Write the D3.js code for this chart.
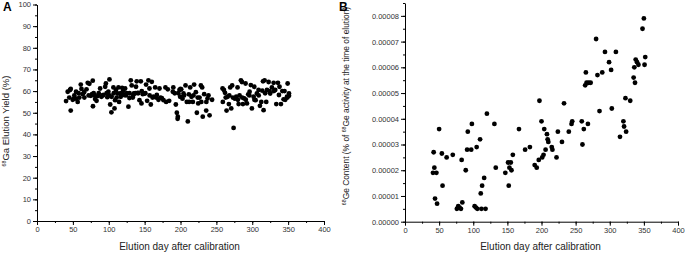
<!DOCTYPE html>
<html>
<head>
<meta charset="utf-8">
<script src="https://cdn.jsdelivr.net/npm/d3@7"></script>
<style>
	body { margin: 0; background: #fff; }
	svg { font-family: "Liberation Sans", Arial, sans-serif; }
	.axis path, .axis line { stroke: #000; stroke-width: 1; }
	.axis text { fill: #333; font-size: 7.5px; }
</style>
</head>
<body>
<div id="chart"></div>
<script>
// Panel A: 68Ga elution yield (%) by elution day
var dayA = [40.5,42.8,46,47,47,49.8,51.6,55,54.4,56.7,59,61,62,63.7,65.6,69,70.7,73,75,76.7,77.7,78,80,81,83,84.7,88,89.8,92.6,95,96,98,99.5,101,102,103.7,104,106.5,108,108.8,110,112.6,113.5,114.4,116.7,118.6,121.4,122.8,125,127.4,128.8,130.7,132,133.5,135,138,139,140.5,142.8,144.7,145.6,147.4,149.8,152,153.5,155.3,156.7,158.6,160,162.3,164.7,167,169.3,170.7,174,176.3,179,182.3,184.2,189.3,190,193.5,194.9,196,196.3,198.6,199.5,201,202.8,204.2,207,208.8,210.2,211.6,213.5,215.3,217.2,219,221.4,222.8,224.7,226.5,228.4,230.2,231,233,235.8,237.7,239,240.5,244,
	258.6,259,260.5,262,264.2,265.6,267.4,269.3,270.7,272,274,275.8,277.7,279.5,281,282.3,284.2,285.6,287,288.8,290.7,292.6,294.4,296.3,298,299.5,301.9,302.8,304.7,306.5,308.8,310.7,312.6,314,315,315.8,317.2,319.5,320.5,322.8,325,327.4,329.8,332,333.5,335.8,337.2,340,341.9,343.7,346,348.4,349.3,351.2,351.2,
	45,52,58,66,72,79,86,91,97,101,107,111,117,120,124,129,134,137,141,146,151,157,161,166,172,180,192,197,200,205,212,218,224,229,236,263,268,273,280,286,291,296,303,309,318,324,330,338,345,349];
var yieldA = [55.4,59.7,60.5,61,51,56,56.5,56.5,59.7,55,57,63,61,58.6,59.5,60.8,63.8,63.4,57.8,58.6,64.8,53,58,56.3,55.5,57.7,61.2,57.4,58.2,62,63.5,57.2,59.7,65.4,53.8,50.2,57.4,61.7,52,55.8,60.5,58.9,61.7,55,57.4,61.5,58.2,61.2,59,52.8,56.8,65,62.6,57,58.9,62,64.5,59.2,55.8,64.5,54.3,58.6,58.9,63,55.5,65,61.2,53.8,64.3,57.4,61.7,58.2,56,61.2,56.8,55.8,61.7,60.8,55.5,59.7,61.7,53.8,50,47.2,48.2,60.5,57.4,60.8,56.5,58.9,62.6,55,46,58.5,61.7,57.4,55,63,59.5,50,54.3,57,62.6,61.7,48.2,58.6,51,56.6,58,48.8,56,
	61.2,55,60.5,59.2,51,57.4,54,61.7,52,62.6,43,56.5,57.4,61.7,54,58,65,64.2,54,56.6,63.5,54.3,58.5,59.7,62.8,52,57.4,62,55.8,58.9,60.5,53.2,55,60.2,64.5,51.2,65,55,60.5,64.2,58.9,61.7,63.8,60.5,54,63.8,58.2,54,60,56.2,56,57.4,63.5,58.9,57.8,
	57,58,59,57,58,59,59,58,59,58,59,57,59,60,58,59,58,59,59,60,59,58,57,57,57,55,59,59,61,58,55,58,57,55,55,57,58,57,56,57,56,58,56,58,59,60,60,62,60,57];

// Panel B: 68Ge content (% of 68Ge activity at the time of elution)
var dayB = [41,42,43,44,46,47,50,54,55,61,70,76,78,80,82,83,84,89,91,92,97,98,102,104,105,106,110,111,112,113,116,118,120,131,133,147,151,152,153,155,156,158,167,176,183,190,193,196,197,200,201,203,204,206,208,209,210,215,216,222,224,230,233,240,244,245,259,260,262,264,265,266,268,269,272,280,282,285,289,293,299,302,303,309,315,320,321,323,324,330,335,336,337,338,340,342,348,350,351,352];
var contentB = [0.000019,0.000027,0.000021,0.000009,0.000019,0.000007,0.000036,0.0000265,0.000014,0.000025,0.000026,0.000005,0.000006,0.0000055,0.000005,0.000024,0.0000075,0.00002,0.000028,0.000035,0.000028,0.000038,0.000006,0.0000055,0.000029,0.000005,0.000032,0.000011,0.000005,0.000014,0.000017,0.000005,0.000042,0.000038,0.000021,0.000019,0.000023,0.000014,0.000021,0.000023,0.00002,0.000026,0.000036,0.000028,0.000029,0.000022,0.000021,0.000024,0.000047,0.000039,0.000025,0.000026,0.000036,0.000028,0.000034,0.000032,0.000031,0.000029,0.000028,0.000025,0.000035,0.000031,0.000046,0.000035,0.000038,0.000039,0.000039,0.00003,0.000036,0.000053,0.000058,0.000054,0.000038,0.000054,0.000054,0.000071,0.000057,0.000043,0.000058,0.000066,0.000062,0.000059,0.000044,0.000066,0.000033,0.000039,0.000037,0.000048,0.000035,0.000047,0.000056,0.00006,0.000054,0.000063,0.000062,0.000061,0.000075,0.000079,0.000061,0.000064];

var dayTicks = [0,50,100,150,200,250,300,350,400];
var yieldTicks = [0,10,20,30,40,50,60,70,80,90,100];
var contentTicks = [0,0.00001,0.00002,0.00003,0.00004,0.00005,0.00006,0.00007,0.00008];

var svg = d3.select("#chart").append("svg")
	.attr("width", 685)
	.attr("height", 253);

function drawPanel(opts){
	var x = d3.scaleLinear().domain([0, 400]).range([opts.left, opts.right]);
	var y = d3.scaleLinear().domain(opts.yDomain).range([opts.bottom, opts.top]);

	// minor ticks first, majors on top
	svg.append("g").attr("class", "axis")
		.attr("transform", "translate(0," + opts.bottom + ")")
		.call(d3.axisBottom(x).tickValues(d3.range(0, 401, 25)).tickSize(2).tickFormat(""))
		.select(".domain").remove();
	svg.append("g").attr("class", "axis")
		.attr("transform", "translate(" + opts.left + ",0)")
		.call(d3.axisLeft(y).tickValues(opts.yMinor).tickSize(2).tickFormat(""))
		.select(".domain").remove();

	svg.append("g").attr("class", "axis")
		.attr("transform", "translate(0," + opts.bottom + ")")
		.call(d3.axisBottom(x).tickValues(dayTicks).tickSize(4).tickSizeOuter(0).tickPadding(2));
	svg.append("g").attr("class", "axis")
		.attr("transform", "translate(" + opts.left + ",0)")
		.call(d3.axisLeft(y).tickValues(opts.yTicks).tickFormat(opts.yFormat).tickSize(4).tickSizeOuter(0).tickPadding(2));

	svg.append("g").selectAll("circle")
		.data(opts.xs)
		.enter()
		.append("circle")
		.attr("cx", function(d){ return x(d); })
		.attr("cy", function(d, i){ return y(opts.ys[i]); })
		.attr("r", 2.4)
		.attr("fill", "#000");

	// axis titles
	svg.append("text")
		.attr("x", (opts.left + opts.right) / 2 - 1)
		.attr("y", 250)
		.attr("text-anchor", "middle")
		.attr("font-size", "10px")
		.attr("fill", "#222")
		.text("Elution day after calibration");

	var yt = svg.append("text")
		.attr("transform", "translate(" + opts.titleX + "," + opts.titleY + ") rotate(-90)")
		.attr("text-anchor", "middle")
		.attr("font-size", opts.titleSize)
		.attr("fill", "#222");
	opts.yTitle.forEach(function(part){
		var t = yt.append("tspan").text(part[0]);
		if(part[1]){ t.attr("font-size", "5.2px").attr("dy", "-3.3"); }
		else if(part[2]){ t.attr("dy", "3.3"); }
	});

	svg.append("text")
		.attr("x", opts.letterX)
		.attr("y", 11)
		.attr("font-size", "12px")
		.attr("font-weight", "bold")
		.text(opts.letter);
}

drawPanel({
	left: 37, right: 324, top: 4.5, bottom: 221,
	yDomain: [0, 100], yTicks: yieldTicks, yMinor: d3.range(0, 101, 5),
	yFormat: d3.format("d"),
	xs: dayA, ys: yieldA,
	titleX: 9, titleY: 121, titleSize: "9.5px",
	yTitle: [["68", true], ["Ga Elution Yield (%)", false, true]],
	letter: "A", letterX: 3
});

drawPanel({
	left: 405, right: 678, top: 3, bottom: 221.7,
	yDomain: [0, 0.000085], yTicks: contentTicks, yMinor: d3.range(0, 0.0000851, 0.000005),
	yFormat: d3.format(".5f"),
	xs: dayB, ys: contentB,
	titleX: 349, titleY: 106, titleSize: "8.4px",
	yTitle: [["68", true], ["Ge Content (% of ", false, true], ["68", true], ["Ge activity at the time of elution)", false, true]],
	letter: "B", letterX: 339
});
</script>
</body>
</html>
